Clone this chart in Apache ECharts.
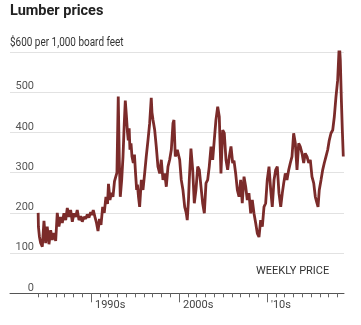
<!DOCTYPE html>
<html>
<head>
<meta charset="utf-8">
<script src="https://cdn.jsdelivr.net/npm/echarts@6/dist/echarts.min.js"></script>
<style>html,body{margin:0;padding:0;background:#fff}#c{width:361px;height:325px}</style>
</head>
<body>
<div id="c"></div>
<script>
// Decimal years (weekly price, sampled)
const years = [
1984.00,1984.03,1984.15,1984.28,1984.47,1984.66,1984.85,1985.03,1985.23,1985.42,1985.60,1985.80,1985.99,
1986.17,1986.36,1986.56,1986.74,1986.93,1987.13,1987.31,1987.50,1987.69,1987.88,1988.07,1988.26,1988.44,
1988.64,1988.83,1989.01,1989.20,1989.40,1989.58,1989.77,1989.97,1990.11,1990.26,1990.45,1990.63,1990.80,
1990.97,1991.14,1991.33,1991.51,1991.70,1991.88,1991.99,1992.16,1992.33,1992.50,1992.67,1992.84,1992.95,
1993.10,1993.22,1993.33,1993.49,1993.64,1993.78,1993.90,1994.03,1994.15,1994.24,1994.34,1994.43,1994.55,
1994.66,1994.81,1994.94,1995.06,1995.19,1995.28,1995.40,1995.53,1995.72,1995.91,1996.10,1996.28,1996.48,
1996.67,1996.85,1996.93,1997.05,1997.24,1997.42,1997.61,1997.81,1997.99,1998.18,1998.38,1998.56,1998.75,
1998.94,1999.13,1999.32,1999.43,1999.58,1999.81,2000.08,2000.26,2000.45,2000.65,2000.83,2000.94,2001.08,
2001.17,2001.36,2001.56,2001.74,2001.93,2002.13,2002.31,2002.50,2002.69,2002.88,2003.07,2003.26,2003.44,
2003.64,2003.83,2004.01,2004.20,2004.40,2004.58,2004.77,2004.97,2005.15,2005.34,2005.53,2005.72,2005.91,
2006.10,2006.25,2006.44,2006.63,2006.82,2007.01,2007.19,2007.39,2007.58,2007.76,2007.95,2008.15,2008.33,
2008.52,2008.72,2008.90,2009.09,2009.28,2009.47,2009.66,2009.85,2010.03,2010.23,2010.42,2010.60,2010.80,
2010.99,2011.17,2011.36,2011.56,2011.74,2011.90,2012.08,2012.27,2012.47,2012.65,2012.84,2013.03,2013.22,
2013.41,2013.60,2013.78,2013.98,2014.17,2014.35,2014.55,2014.74,2014.92,2015.11,2015.31,2015.49,2015.68,
2015.80,2015.94,2016.14,2016.33,2016.51,2016.70,2016.90,2017.08,2017.27,2017.47,2017.65,2017.84,2018.03,
2018.22,2018.33,2018.44,2018.56,2018.67
];
// $ per 1,000 board feet
const prices = [
200,165,140,125,116,180,125,166,122,157,133,150,130,
200,166,190,175,199,182,212,190,207,178,199,190,207,
182,192,178,190,185,196,188,202,195,207,190,175,155,
185,170,215,200,240,222,272,232,250,240,278,282,300,
489,330,240,282,340,420,479,440,400,380,410,357,373,
340,324,345,300,257,270,240,215,282,257,298,340,381,
423,486,450,431,406,365,315,298,332,282,298,265,315,
332,357,423,431,340,357,332,282,257,215,199,182,232,
282,360,307,224,257,315,307,265,224,199,274,282,315,
365,332,381,431,464,439,298,406,398,332,307,340,365,
324,330,298,257,240,282,224,290,265,232,249,199,232,
199,174,149,140,182,166,215,224,282,315,257,215,282,
307,315,249,215,249,274,298,282,307,324,340,398,373,
307,373,365,348,324,348,340,324,332,290,274,240,224,
215,257,282,307,324,340,357,381,398,406,439,489,530,
622,580,489,406,340
];
const minorTickYears = [];
for (let y = 1984; y <= 2018; y++) minorTickYears.push(y);
const decadeYears = [1990,2000,2010];
const decadeLabels = ['1990s','2000s',"'10s"];

const FONT = 'Roboto, "Noto Sans", sans-serif';
const chart = echarts.init(document.getElementById('c'), null, {renderer:'canvas'});
chart.setOption({
  animation:false,
  title:[
    {text:'Lumber prices', left:10, top:4, padding:0, textStyle:{fontFamily:FONT, fontSize:14.5, fontWeight:'bold', color:'#222'}}
  ],
  graphic:[
    {type:'text', x:10, y:37, scaleX:0.83, style:{text:'$600 per 1,000 board feet', fontFamily:FONT, fontSize:12, fill:'#333'}},
    {type:'text', left:256, top:266, style:{text:'WEEKLY PRICE', fontFamily:FONT, fontSize:11, fill:'#333'}}
  ],
  grid:{left:10, right:17, top:52, bottom:31.7, containLabel:false},
  xAxis:[
    {type:'value', min:1980.8, max:2018.75, position:'bottom',
     axisLine:{show:true, lineStyle:{color:'#555', width:1}},
     axisTick:{show:true, customValues:minorTickYears, length:4, lineStyle:{color:'#666'}},
     axisLabel:{show:false}, splitLine:{show:false}},
    {type:'value', min:1980.8, max:2018.75, position:'bottom',
     axisLine:{show:false},
     axisTick:{show:true, customValues:decadeYears, length:9, lineStyle:{color:'#666'}},
     axisLabel:{show:true, customValues:decadeYears, align:'left', padding:[0,0,0,4], margin:6,
       fontFamily:FONT, fontSize:11, color:'#444',
       formatter:v=>decadeLabels[decadeYears.indexOf(v)]},
     splitLine:{show:false}}
  ],
  yAxis:{type:'value', min:0, max:600, interval:100,
    axisLine:{show:false}, axisTick:{show:false},
    axisLabel:{margin:-24, verticalAlign:'bottom', fontFamily:FONT, fontSize:11, color:'#555',
      formatter:v=>v===600?'':String(v)},
    splitLine:{show:true, lineStyle:{color:'#e2e2e2', width:1}}},
  series:[{type:'line', xAxisIndex:0, data:years.map((y,i)=>[y,prices[i]]), symbol:'none',
    lineStyle:{color:'#7b2b2a', width:2.8}, z:3}]
});
</script>
</body>
</html>
